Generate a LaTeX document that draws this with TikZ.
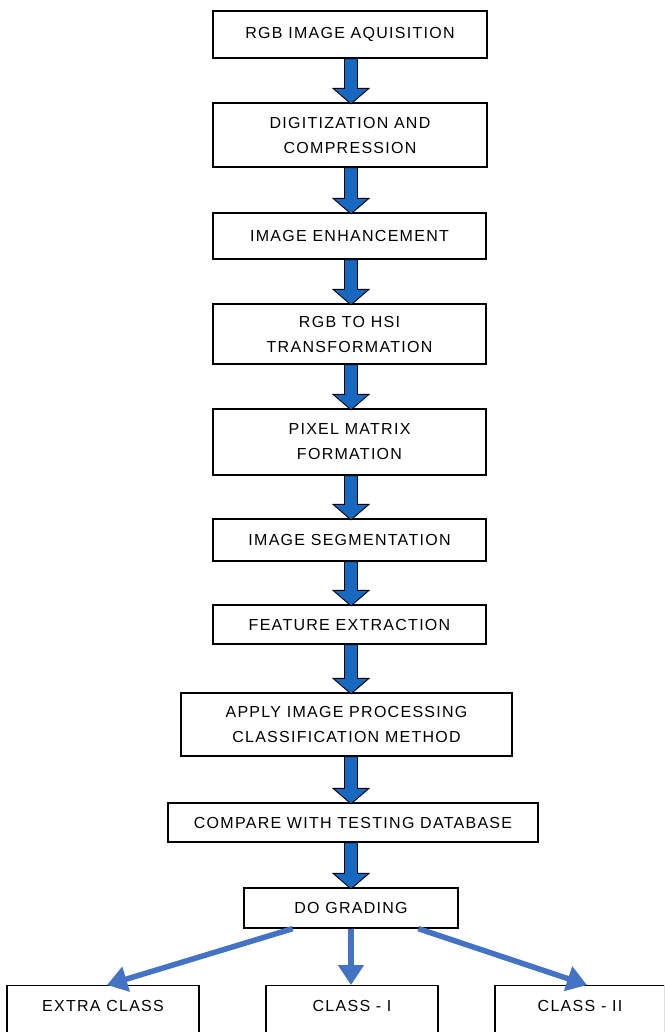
\documentclass[tikz,border=0pt]{standalone}
\usepackage{fontspec}
\setmainfont{Liberation Sans}[LetterSpace=8]
\usetikzlibrary{calc,arrows.meta}
\definecolor{fatblue}{RGB}{22,104,192}
\definecolor{branchblue}{RGB}{68,114,196}
\tikzset{
  box/.style={draw=black, line width=1.3pt, fill=white, align=center, inner sep=0pt,
    font=\fontsize{16}{25}\selectfont},
  leafbox/.style={box, anchor=north, text height=11.5pt, text depth=60pt, inner ysep=14.5pt},
  fatarr/.style={draw=black, line width=0.9pt, fill=fatblue, line join=miter},
  branch/.style={draw=branchblue, line width=5.5pt, -{Triangle[length=20pt,width=25pt]}},
}
\newcommand\fatarrow[2]{%
  \draw[fatarr] let \p1=(#1.south -| col), \p2=(#2.north -| col) in
    (\x1-6.5pt,\y1) -- (\x1-6.5pt,\y2+14pt) -- (\x1-18pt,\y2+14pt) -- (\x1,\y2-1.5pt)
    -- (\x1+18pt,\y2+14pt) -- (\x1+6.5pt,\y2+14pt) -- (\x1+6.5pt,\y1) -- cycle;}
\begin{document}
\begin{tikzpicture}[x=1pt,y=1pt]
\clip (0,0) rectangle (664,-1032);
\fill[white] (0,0) rectangle (664,-1032);
\coordinate (col) at (351,0);
\node[box, minimum width=274, minimum height=47] (b1) at (350,-34.5) {RGB IMAGE AQUISITION};
\node[box, minimum width=274, minimum height=64] (b2) at (350,-135) {DIGITIZATION AND\\COMPRESSION};
\node[box, minimum width=273, minimum height=46] (b3) at (349.5,-236) {IMAGE ENHANCEMENT};
\node[box, minimum width=273, minimum height=60] (b4) at (349.5,-334) {RGB TO HSI\\TRANSFORMATION};
\node[box, minimum width=273, minimum height=66] (b5) at (349.5,-442) {PIXEL MATRIX\\FORMATION};
\node[box, minimum width=273, minimum height=42] (b6) at (349.5,-540) {IMAGE SEGMENTATION};
\node[box, minimum width=273, minimum height=39] (b7) at (349.5,-624.5) {FEATURE EXTRACTION};
\node[box, minimum width=331, minimum height=63] (b8) at (346.5,-724.5) {APPLY IMAGE PROCESSING\\CLASSIFICATION METHOD};
\node[box, minimum width=370, minimum height=39] (b9) at (353,-822.5) {COMPARE WITH TESTING DATABASE};
\node[box, minimum width=214, minimum height=40] (b10) at (351,-908) {DO GRADING};
\node[leafbox, minimum width=192] (b11) at (103,-985) {EXTRA CLASS};
\node[leafbox, minimum width=172] (b12) at (352,-985) {CLASS - I};
\node[leafbox, minimum width=170] (b13) at (580,-985) {CLASS - II};
\fatarrow{b1}{b2}
\fatarrow{b2}{b3}
\fatarrow{b3}{b4}
\fatarrow{b4}{b5}
\fatarrow{b5}{b6}
\fatarrow{b6}{b7}
\fatarrow{b7}{b8}
\fatarrow{b8}{b9}
\fatarrow{b9}{b10}
\draw[branch] ($(b10.south west)!0.229!(b10.south east)$) -- ($(b11.north)+(4,0)$);
\draw[branch] (b10.south) -- (b10.south |- b12.north);
\draw[branch] ($(b10.south west)!0.813!(b10.south east)$) -- ($(b13.north)+(7,0)$);
\end{tikzpicture}
\end{document}
